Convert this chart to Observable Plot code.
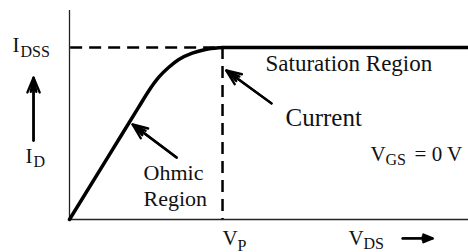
<!DOCTYPE html>
<html>
<head>
<meta charset="utf-8">
<script src="https://cdn.jsdelivr.net/npm/d3@7"></script>
<script src="https://cdn.jsdelivr.net/npm/@observablehq/plot@0.6"></script>
<style>
  html, body { margin: 0; padding: 0; background: #fff; }
</style>
</head>
<body>
<div id="chart"></div>
<script>
// Drain characteristic of a JFET (V_GS = 0 V)
const vds = [0, 1.0, 1.8, 2.07, 2.335, 2.596, 2.858, 3.208, 3.556, 3.903, 4.0, 10.43];
const id  = [0, 2.89, 5.2, 5.98, 6.62, 7.08, 7.44, 7.735, 7.907, 7.986, 8.0, 8.0];
const vp = 4.0;
const idss = 8.0;
const xMax = 10.43;
const yAxisTop = 9.72;

// annotation labels (data coordinates)
const wordLabels = [
  {text: "Saturation Region", x: 5.124, y: 6.93}
];
const regionLabels = [
  {text: "Ohmic\nRegion", x: 1.935, y: 0.651}
];
const bigLabels = [
  {text: "Current", x: 5.647, y: 4.372}
];
const symbolLabels = [
  {text: "I", x: -1.490, y: 7.81},
  {text: "I", x: -1.150, y: 2.605},
  {text: "V", x: 7.869, y: 2.698},
  {text: "= 0 V", x: 9.02, y: 2.698},
  {text: "V", x: 4.0, y: -1.209},
  {text: "V", x: 7.294, y: -1.209}
];
const subLabels = [
  {text: "DSS", x: -1.281, y: 7.58},
  {text: "D", x: -0.941, y: 2.465},
  {text: "GS", x: 8.261, y: 2.512},
  {text: "P", x: 4.392, y: -1.442},
  {text: "DS", x: 7.686, y: -1.395}
];
const arrows = [
  {x1: 5.28, y1: 5.40, x2: 4.10, y2: 6.93},
  {x1: 2.80, y1: 2.88, x2: 1.65, y2: 4.42},
  {x1: -0.94, y1: 3.67, x2: -0.94, y2: 6.60},
  {x1: 8.71, y1: -0.88, x2: 9.49, y2: -0.88}
];

const curve = vds.map((v, i) => ({vds: v, id: id[i]}));

const font = "'Liberation Serif', 'Times New Roman', serif";

const chart = Plot.plot({
  width: 468,
  height: 252,
  marginLeft: 69,
  marginRight: 0,
  marginTop: 4,
  marginBottom: 33,
  x: {domain: [0, xMax], axis: null},
  y: {domain: [0, 10], axis: null},
  style: {fontFamily: font, background: "#fff", color: "#000", overflow: "visible"},
  marks: [
    // axes
    Plot.ruleX([0], {y1: 0, y2: yAxisTop, stroke: "#222", strokeWidth: 1.3}),
    Plot.ruleY([0], {x1: 0, x2: xMax, stroke: "#222", strokeWidth: 1.3}),
    // dashed guides
    Plot.ruleY([idss], {x1: 0.03, x2: vp, stroke: "#000", strokeWidth: 2.5, strokeDasharray: "12,7"}),
    Plot.ruleX([vp], {y1: idss, y2: 0, stroke: "#000", strokeWidth: 2.5, strokeDasharray: "12,7"}),
    // characteristic curve
    Plot.line(curve, {x: "vds", y: "id", curve: "monotone-x", stroke: "#000", strokeWidth: 3.5}),
    // arrows
    Plot.arrow(arrows, {x1: "x1", y1: "y1", x2: "x2", y2: "y2", stroke: "#000", strokeWidth: 2.4, headLength: 10, headAngle: 45}),
    Plot.arrow(arrows, {x1: "x1", y1: "y1", x2: "x2", y2: "y2", stroke: "#000", strokeWidth: 2.4, headLength: 9, headAngle: 22}),
    // labels
    Plot.text(wordLabels, {x: "x", y: "y", text: "text", textAnchor: "start", lineAnchor: "bottom", fontSize: 23, fill: "#111"}),
    Plot.text(regionLabels, {x: "x", y: "y", text: "text", textAnchor: "start", lineAnchor: "bottom", lineHeight: 1.14, fontSize: 22, fill: "#111"}),
    Plot.text(bigLabels, {x: "x", y: "y", text: "text", textAnchor: "start", lineAnchor: "bottom", fontSize: 25, fill: "#111"}),
    Plot.text(symbolLabels, {x: "x", y: "y", text: "text", textAnchor: "start", lineAnchor: "bottom", fontSize: 21, fill: "#111"}),
    Plot.text(subLabels, {x: "x", y: "y", text: "text", textAnchor: "start", lineAnchor: "bottom", fontSize: 16, fill: "#111"})
  ]
});
document.getElementById("chart").appendChild(chart);
</script>
</body>
</html>
